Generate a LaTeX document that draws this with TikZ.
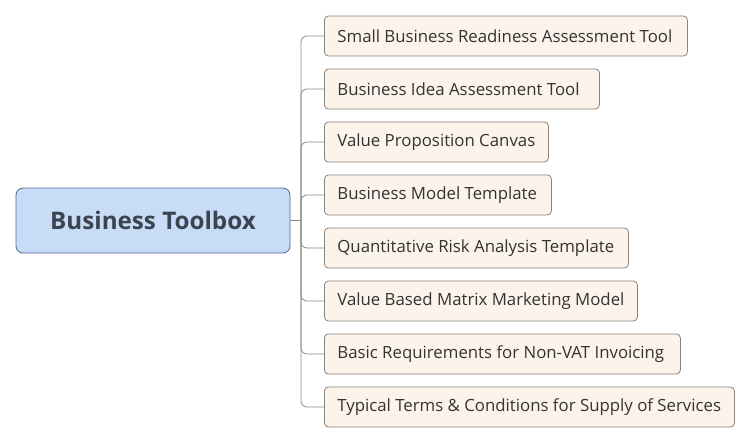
\documentclass[tikz,border=0pt]{standalone}
\usepackage{fontspec}
\setmainfont{Open Sans}
\definecolor{rootfill}{HTML}{C8DCF8}
\definecolor{rootdraw}{HTML}{4F6A92}
\definecolor{kidfill}{HTML}{FCF3EA}
\definecolor{kiddraw}{HTML}{8C8279}
\definecolor{kidtext}{HTML}{333333}
\definecolor{roottext}{HTML}{3C4450}
\definecolor{connc}{HTML}{8A8A8A}
\newcommand{\kidnode}[4]{\node[kidbox] (#2) at (324,#3) {\makebox[#1pt][l]{#4}};}
\begin{document}
\begin{tikzpicture}[x=1pt,y=-1pt,
  rootbox/.style={draw=rootdraw,fill=rootfill,rounded corners=7pt,line width=0.8pt,
    minimum width=274pt,minimum height=65pt,inner sep=0pt,text=roottext,
    font=\fontsize{24.2}{28}\selectfont\bfseries},
  kidbox/.style={draw=kiddraw,fill=kidfill,rounded corners=4pt,line width=0.8pt,
    anchor=west,minimum height=40pt,inner xsep=13pt,inner ysep=0pt,text=kidtext,
    font=\fontsize{16.8}{19}\selectfont},
  conn/.style={draw=connc,line width=0.8pt,rounded corners=6pt}]
\useasboundingbox[fill=white] (0,0) rectangle (751,444);
\node[rootbox] (root) at (153,220.5) {Business Toolbox};
\coordinate (hub) at (301,220.5);
\kidnode{337}{c1}{36}{Small Business Readiness Assessment Tool}
\kidnode{249}{c2}{89}{Business Idea Assessment Tool}
\kidnode{198}{c3}{142}{Value Proposition Canvas}
\kidnode{201}{c4}{195}{Business Model Template}
\kidnode{278}{c5}{248}{Quantitative Risk Analysis Template}
\kidnode{287}{c6}{301}{Value Based Matrix Marketing Model}
\kidnode{330}{c7}{354}{Basic Requirements for Non-VAT Invoicing}
\kidnode{384}{c8}{407}{Typical Terms \& Conditions for Supply of Services}
\draw[conn] (root.east) -- (hub);
\foreach \k in {1,...,8}{\draw[conn] (hub) |- (c\k.west);}
\end{tikzpicture}
\end{document}
